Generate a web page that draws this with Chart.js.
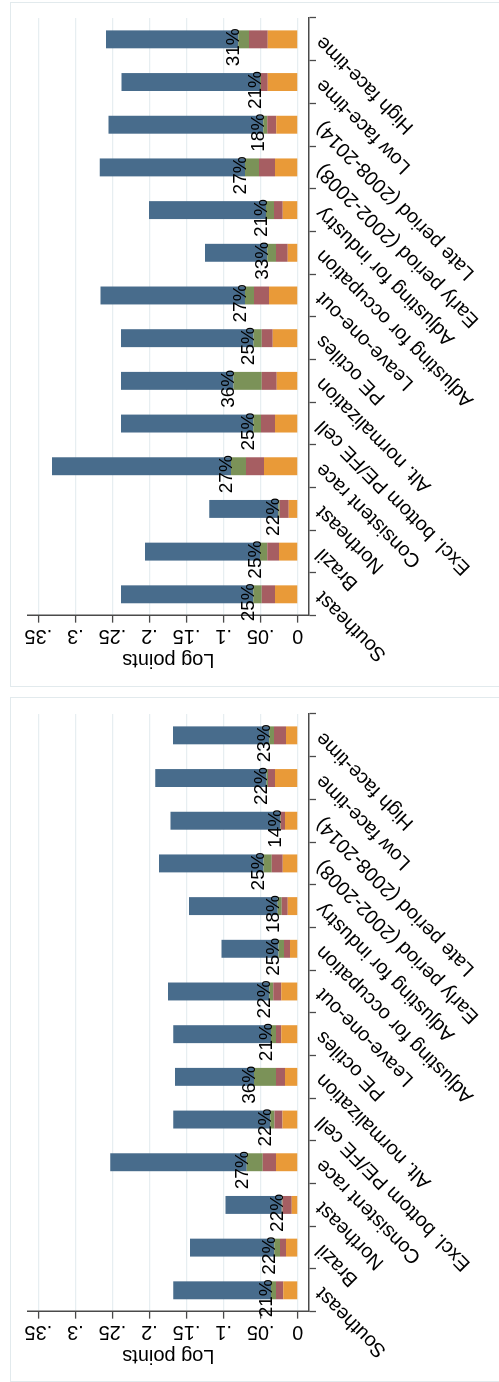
<!DOCTYPE html>
<html>
<head>
<meta charset="utf-8">
<script src="https://cdn.jsdelivr.net/npm/chart.js@4.4.1/dist/chart.umd.min.js"></script>
<style>
  body { margin: 0; background: #fff; width: 499px; height: 1382px; overflow: hidden; position: relative; }
  .frame { position: absolute; left: 10px; width: 490px; height: 685px; border: 1px solid #e2eaed; box-sizing: border-box; }
  .panel { position: absolute; left: 0; top: 0; width: 686px; height: 490px; transform-origin: 0 0; }
</style>
</head>
<body>
<div class="frame" style="top:2px"></div>
<div class="frame" style="top:697px"></div>
<div class="panel" style="transform: translate(10px, 688px) rotate(-90deg)"><canvas id="top" width="686" height="490"></canvas></div>
<div class="panel" style="transform: translate(10px, 1384px) rotate(-90deg)"><canvas id="bottom" width="686" height="490"></canvas></div>
<script>
const categories = ['Southeast', 'Brazil', 'Northeast', 'Consistent race', 'Excl. bottom PE/FE cell',
  'Alt. normalization', 'PE octiles', 'Leave-one-out', 'Adjusting for occupation', 'Adjusting for industry',
  'Early period (2002-2008)', 'Late period (2008-2014)', 'Low face-time', 'High face-time'];

const tickValues = [0, 0.05, 0.1, 0.15, 0.2, 0.25, 0.3, 0.35];
const tickLabels = ['0', '.05', '.1', '.15', '.2', '.25', '.3', '.35'];

// upper panel components (log points), stacked bottom to top
const topOrange = [0.0306, 0.0252, 0.0120, 0.0455, 0.0306, 0.0283, 0.0337, 0.0387, 0.0135, 0.0202, 0.0306, 0.0289, 0.0405, 0.0405];
const topMauve  = [0.0180, 0.0158, 0.0122, 0.0243, 0.0189, 0.0202, 0.0148, 0.0202, 0.0158, 0.0117, 0.0216, 0.0121, 0.0090, 0.0252];
const topGreen  = [0.0113, 0.0099, 0.0022, 0.0202, 0.0104, 0.0383, 0.0113, 0.0121, 0.0117, 0.0108, 0.0189, 0.0054, 0.0013, 0.0144];
const topBlue   = [0.1785, 0.1550, 0.0930, 0.2415, 0.1785, 0.1515, 0.1785, 0.1950, 0.0840, 0.1580, 0.1960, 0.2090, 0.1870, 0.1785];
const topShares = ['25%', '25%', '22%', '27%', '25%', '36%', '25%', '27%', '33%', '21%', '27%', '18%', '21%', '31%'];

// lower panel components
const botOrange = [0.0194, 0.0158, 0.0081, 0.0293, 0.0205, 0.0171, 0.0221, 0.0221, 0.0104, 0.0135, 0.0202, 0.0171, 0.0306, 0.0158];
const botMauve  = [0.0098, 0.0081, 0.0125, 0.0180, 0.0110, 0.0121, 0.0072, 0.0108, 0.0081, 0.0081, 0.0148, 0.0058, 0.0094, 0.0162];
const botGreen  = [0.0067, 0.0077, 0.0009, 0.0216, 0.0055, 0.0297, 0.0067, 0.0054, 0.0075, 0.0054, 0.0113, 0.0009, 0.0023, 0.0063];
const botBlue   = [0.1320, 0.1137, 0.0760, 0.1840, 0.1310, 0.1066, 0.1320, 0.1367, 0.0770, 0.1197, 0.1407, 0.1480, 0.1500, 0.1300];
const botShares = ['21%', '22%', '22%', '27%', '22%', '36%', '21%', '22%', '25%', '18%', '25%', '14%', '22%', '23%'];

const colors = ['#e99a38', '#a65e62', '#7b9258', '#486c8c'];
const axisColor = '#4a4a4a';

Chart.defaults.font.family = '"Liberation Sans", Arial, sans-serif';
Chart.defaults.color = '#000';

// share of the first three components, written just above the green segment
const shareLabels = {
  id: 'shareLabels',
  afterDatasetsDraw(chart, args, opts) {
    const ctx = chart.ctx;
    const meta = chart.getDatasetMeta(2);
    ctx.save();
    ctx.font = '19px "Liberation Sans", Arial, sans-serif';
    ctx.fillStyle = '#000';
    ctx.textAlign = 'center';
    ctx.textBaseline = 'alphabetic';
    meta.data.forEach((bar, i) => {
      ctx.fillText(opts.labels[i], bar.x - 8, bar.y + 1);
    });
    ctx.restore();
  }
};

function makeChart(id, orange, mauve, green, blue, shares) {
  const series = [orange, mauve, green, blue];
  new Chart(document.getElementById(id), {
    type: 'bar',
    data: {
      labels: categories,
      datasets: series.map((d, i) => ({
        data: d,
        backgroundColor: colors[i],
        borderWidth: 0,
        categoryPercentage: 1,
        barPercentage: 0.42
      }))
    },
    options: {
      responsive: false,
      animation: false,
      events: [],
      layout: { padding: { top: 17.7, right: 16, left: 0, bottom: 0 } },
      plugins: {
        legend: { display: false },
        tooltip: { enabled: false },
        shareLabels: { labels: shares }
      },
      scales: {
        x: {
          stacked: true,
          afterFit: s => { s.height = 191; },
          ticks: { autoSkip: false, minRotation: 45, maxRotation: 45, font: { size: 20 }, padding: -5 },
          grid: { drawOnChartArea: false, tickLength: 7, tickColor: axisColor, tickWidth: 1.3 },
          border: { color: axisColor, width: 1.5 }
        },
        y: {
          stacked: true,
          min: -0.0152,
          max: 0.3643,
          afterBuildTicks: s => { s.ticks = tickValues.map(v => ({ value: v })); },
          afterFit: s => { s.width = 72.35; },
          ticks: {
            callback: (v, i) => tickLabels[i],
            minRotation: 90,
            maxRotation: 90,
            crossAlign: 'center',
            padding: -1.5,
            font: { size: 20 }
          },
          grid: { color: '#e7eef1', lineWidth: 1.2, tickLength: 7, tickColor: axisColor, tickWidth: 1.3 },
          border: { color: axisColor, width: 1.5 },
          title: { display: true, text: 'Log points', font: { size: 20 }, padding: { top: 16.4, bottom: 0 } }
        }
      }
    },
    plugins: [shareLabels]
  });
}

makeChart('top', topOrange, topMauve, topGreen, topBlue, topShares);
makeChart('bottom', botOrange, botMauve, botGreen, botBlue, botShares);
</script>
</body>
</html>
